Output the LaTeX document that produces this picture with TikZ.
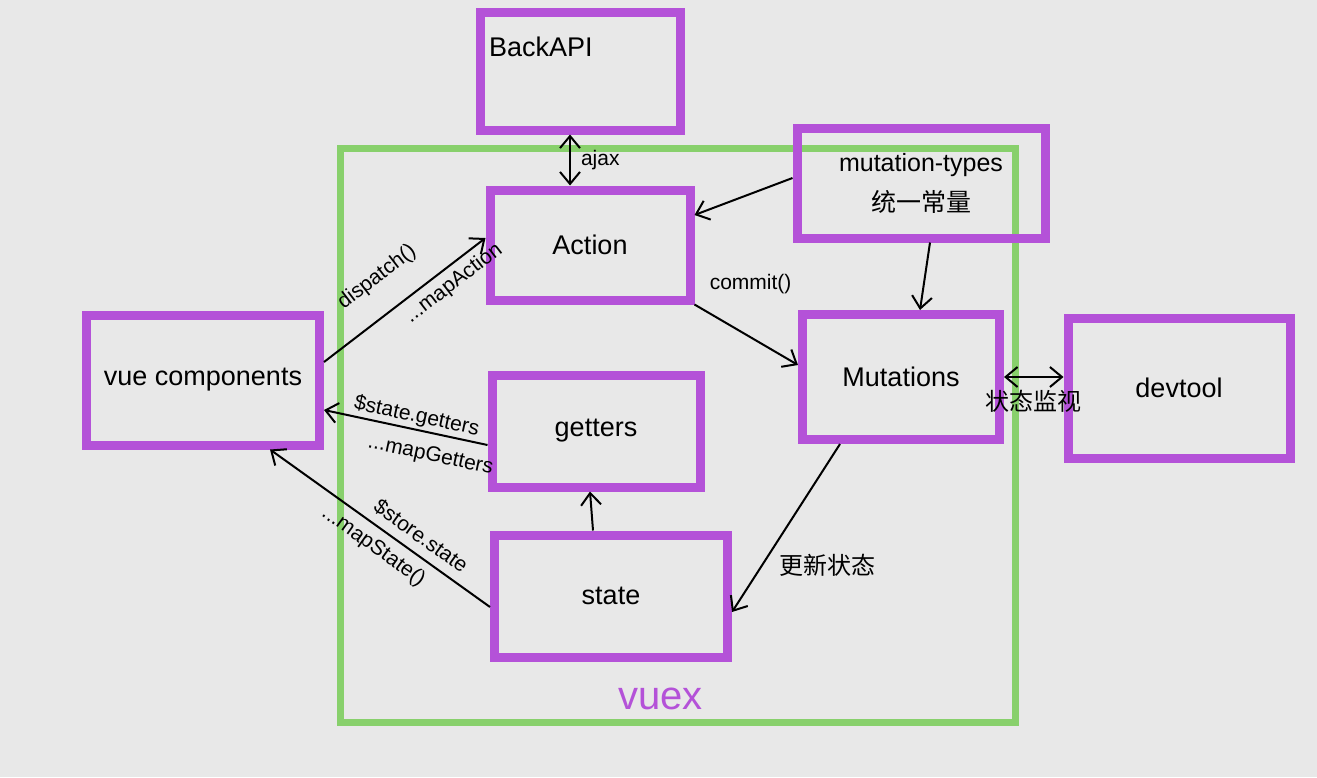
\documentclass[tikz,border=0pt]{standalone}
\usepackage{fontspec}
\setmainfont{Liberation Sans}
\newfontfamily\cjk{Noto Sans CJK SC}
\usetikzlibrary{arrows.meta}
\definecolor{board}{HTML}{E8E8E8}
\definecolor{mag}{HTML}{B452D8}
\definecolor{grn}{HTML}{88D06C}
\tikzset{
  box/.style={draw=mag, line width=9pt, inner sep=0pt, font=\fontsize{27}{31}\selectfont, align=center},
  frame/.style={draw=grn, line width=7pt, inner sep=0pt},
  arr/.style={-{Straight Barb[length=12pt,width=20pt,line width=2pt]}, line width=2pt, black},
  dbl/.style={{Straight Barb[length=12pt,width=20pt,line width=2pt]}-{Straight Barb[length=12pt,width=20pt,line width=2pt]}, line width=2pt, black},
  lab/.style={font=\fontsize{21}{24}\selectfont, inner sep=2pt},
  cjklab/.style={font=\cjk\fontsize{24}{28}\selectfont, inner sep=2pt}
}
\begin{document}
\begin{tikzpicture}[x=1pt,y=-1pt]
\fill[board] (0,0) rectangle (1317,777);
\useasboundingbox (0,0) rectangle (1317,777);

\node[frame, minimum width=675pt, minimum height=574pt] (vuex) at (677.5,435) {};
\node[font=\fontsize{40}{44}\selectfont, text=mag] (vuexlab) at ([xshift=-17pt,yshift=27pt]vuex.south) {vuex};

\node[box, minimum width=200pt, minimum height=118pt] (back) at (580,71) {};
\node[font=\fontsize{27}{31}\selectfont, anchor=west] (backlab) at ([xshift=10pt,yshift=24pt]back.west) {BackAPI};
\node[box, minimum width=200pt, minimum height=110pt] (action) at (590,245) {Action};
\node[box, minimum width=248pt, minimum height=110pt, font=\fontsize{25}{40}\selectfont] (mt) at (921,183) {mutation-types\\{\cjk 统一常量}};
\node[box, minimum width=197pt, minimum height=125pt] (mut) at (901,377) {Mutations};
\node[box, minimum width=222pt, minimum height=140pt] (dev) at (1179,388) {devtool};
\node[box, minimum width=233pt, minimum height=130pt] (vue) at (203,380) {vue components};
\node[box, minimum width=208pt, minimum height=112pt] (getters) at (596,431) {getters};
\node[box, minimum width=233pt, minimum height=122pt] (state) at (611,596) {state};

% ajax
\draw[dbl] ([xshift=-10pt]back.south) -- ([xshift=-20pt]action.north) node[midway, right, lab, xshift=8pt] {ajax};
% mutation-types -> Action
\draw[arr] ([yshift=5pt]mt.west) -- ([yshift=30pt]action.east);
% mutation-types -> Mutations
\draw[arr] ([xshift=9pt]mt.south) -- ([xshift=19pt]mut.north);
% commit
\draw[arr] (action.south east) -- ([yshift=12pt]mut.west) node[pos=0.6, above, lab, yshift=44pt, xshift=-6pt] {commit()};
% Mutations <-> devtool
\draw[dbl] (mut.east) -- (mut.east -| dev.west) node[midway, below, cjklab, yshift=-10pt] {状态监视};
% Mutations -> state
\draw[arr] ([xshift=-61pt]mut.south) -- ([yshift=-16pt]state.east) node[pos=0.72, anchor=west, cjklab, xshift=14pt] {更新状态};
% vue -> action
\draw[arr] ([yshift=18pt]vue.east) -- ([yshift=7pt]action.west)
  node[pos=0.46, above=22pt, sloped, lab] {dispatch()}
  node[pos=0.74, below=4pt, sloped, lab] {...mapAction};
% getters -> vue
\draw[arr] ([yshift=-14pt]getters.west) -- ([yshift=-30pt]vue.east)
  node[pos=0.45, above, sloped, lab] {\$state.getters}
  node[pos=0.32, below=10pt, sloped, lab] {...mapGetters};
% state -> vue
\draw[arr] ([yshift=-11pt]state.west) -- ([xshift=67pt]vue.south)
  node[pos=0.36, above=6pt, sloped, lab] {\$store.state}
  node[pos=0.48, below=6pt, sloped, lab] {...mapState()};
% state -> getters
\draw[arr] ([xshift=-18pt]state.north) -- ([xshift=-6pt]getters.south);
\end{tikzpicture}
\end{document}
